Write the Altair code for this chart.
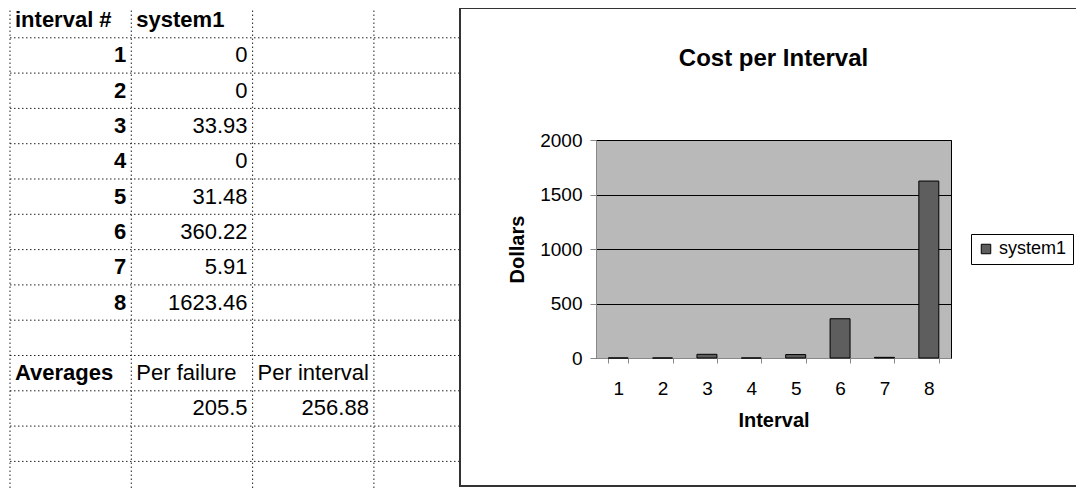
import altair as alt
import pandas as pd

# ---------------- data ----------------
intervals = [1, 2, 3, 4, 5, 6, 7, 8]
system1 = [0, 0, 33.93, 0, 31.48, 360.22, 5.91, 1623.46]
series_name = "system1"
header_cells = ["interval #", "system1"]
avg_labels = ["Averages", "Per failure", "Per interval"]
avg_values = [205.5, 256.88]          # per failure, per interval
y_ticks = [0, 500, 1000, 1500, 2000]
chart_title = "Cost per Interval"
x_title = "Interval"
y_title = "Dollars"

# ---------------- layout constants (pixels) ----------------
FONT = "Liberation Sans"
PLOT_L, PLOT_T, PLOT_W, PLOT_H = 596, 140, 355, 218
SVG_W, SVG_H = 1068, 480
COL_X0, COL_W = 10, 121.3        # spreadsheet column grid
ROW_Y0, ROW_H = 2.5, 35.3        # spreadsheet row grid
N_COLS, N_ROWS = 4, 14
SHEET_EDGE = (460 - COL_X0) / COL_W   # where the embedded chart object starts

sx = alt.Scale(domain=[0, N_COLS],
               range=[COL_X0 - PLOT_L, COL_X0 + N_COLS * COL_W - PLOT_L])
sy = alt.Scale(domain=[0, N_ROWS],
               range=[ROW_Y0 - PLOT_T, ROW_Y0 + N_ROWS * ROW_H - PLOT_T])

# ---------------- spreadsheet tables ----------------
fmt = lambda v: f"{v:g}"
bold_left = pd.DataFrame({
    "col": [0, 1, 0],
    "row": [0, 0, 10],
    "txt": [header_cells[0], header_cells[1], avg_labels[0]],
})
bold_right = pd.DataFrame({
    "col": [1] * len(intervals),
    "row": list(range(1, len(intervals) + 1)),
    "txt": [str(i) for i in intervals],
})
norm_right = pd.DataFrame({
    "col": [2] * len(system1) + [2, 3],
    "row": list(range(1, len(system1) + 1)) + [11, 11],
    "txt": [fmt(v) for v in system1] + [fmt(v) for v in avg_values],
})
norm_left = pd.DataFrame({
    "col": [1, 2],
    "row": [10, 10],
    "txt": avg_labels[1:],
})
vlines = pd.DataFrame({"col": list(range(N_COLS)), "r0": 0, "r1": N_ROWS})
hlines = pd.DataFrame({"row": list(range(N_ROWS + 1)), "c0": 0, "c1": SHEET_EDGE})


def sheet_text(df, align, weight, dx):
    return alt.Chart(df).transform_calculate(yc="datum.row + 0.5").mark_text(
        align=align, baseline="middle", dx=dx, font=FONT, fontSize=22,
        fontWeight=weight, color="black"
    ).encode(
        x=alt.X("col:Q", scale=sx, axis=None),
        y=alt.Y("yc:Q", scale=sy, axis=None),
        text="txt:N",
    )


grid_v = alt.Chart(vlines).mark_rule(color="#222", strokeDash=[1.5, 2.5], strokeWidth=1).encode(
    x=alt.X("col:Q", scale=sx, axis=None),
    y=alt.Y("r0:Q", scale=sy, axis=None),
    y2="r1:Q",
)
grid_h = alt.Chart(hlines).mark_rule(color="#222", strokeDash=[1.5, 2.5], strokeWidth=1).encode(
    y=alt.Y("row:Q", scale=sy, axis=None),
    x=alt.X("c0:Q", scale=sx, axis=None),
    x2="c1:Q",
)

frame = alt.Chart(pd.DataFrame({"k": [0]})).mark_rect(
    fillOpacity=0, stroke="#333", strokeWidth=2
).encode(
    x=alt.value(460 - PLOT_L), x2=alt.value(1110 - PLOT_L),
    y=alt.value(8 - PLOT_T), y2=alt.value(486 - PLOT_T),
)

# ---------------- bar chart ----------------
bars_df = pd.DataFrame({
    "interval": [str(i) for i in intervals],
    "cost": system1,
    "series": [series_name] * len(intervals),
})

bars = alt.Chart(bars_df).mark_bar(stroke="black", strokeWidth=1).encode(
    x=alt.X("interval:O", sort=None,
            scale=alt.Scale(paddingInner=0.55, paddingOuter=0.275),
            axis=alt.Axis(title=x_title, labelAngle=0, labelFontSize=19,
                          labelPadding=16, tickSize=5, tickBand="extent",
                          titleFontSize=20, titleFontWeight="bold",
                          titlePadding=12, grid=False)),
    y=alt.Y("cost:Q", scale=alt.Scale(domain=[0, 2000], nice=False),
            axis=alt.Axis(title=y_title, values=y_ticks, grid=True, format="d",
                          labelFontSize=19, tickSize=6, labelPadding=8,
                          titleFontSize=20, titleFontWeight="bold",
                          titlePadding=12, gridColor="black", gridWidth=1,
                          gridOpacity=1)),
    color=alt.Color("series:N",
                    scale=alt.Scale(domain=[series_name], range=["#5e5e5e"]),
                    legend=alt.Legend(title=None, orient="none",
                                      legendX=375, legendY=94, padding=6,
                                      strokeColor="black", fillColor="white",
                                      cornerRadius=0, symbolType="square",
                                      symbolSize=90, symbolStrokeColor="black",
                                      symbolStrokeWidth=1, labelFontSize=18,
                                      labelFont=FONT, labelColor="black",
                                      labelOffset=4)),
)

chart = alt.layer(
    grid_v, grid_h,
    sheet_text(bold_left, "left", "bold", 5),
    sheet_text(bold_right, "right", "bold", -5),
    sheet_text(norm_right, "right", "normal", -5),
    sheet_text(norm_left, "left", "normal", 5),
    frame,
    bars,
).resolve_scale(
    x="independent", y="independent"
).properties(
    width=PLOT_W, height=PLOT_H,
    view=alt.ViewBackground(fill="#b9b9b9", stroke="black", strokeWidth=1),
    title=alt.TitleParams(text=chart_title, font=FONT, fontSize=24,
                          fontWeight="bold", anchor="middle", frame="group",
                          offset=-69, color="black"),
    autosize=alt.AutoSizeParams(type="none"),
    padding={"left": PLOT_L - 8, "top": PLOT_T - 8,
             "right": SVG_W - (PLOT_L - 8) - PLOT_W,
             "bottom": SVG_H - (PLOT_T - 8) - PLOT_H},
).configure_view(
    fill="#b9b9b9", stroke="black", strokeWidth=1
).configure_axis(
    labelFont=FONT, titleFont=FONT, labelColor="black", titleColor="black",
    domainColor="black", tickColor="black", domainWidth=1
).configure(background="white")

chart.save("out.html", embed_options={"renderer": "svg", "actions": False})
